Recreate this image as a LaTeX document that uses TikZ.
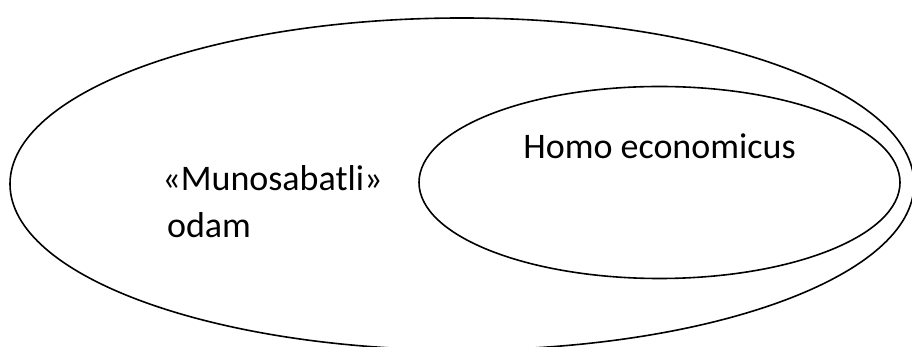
\documentclass[tikz,border=0pt]{standalone}
\usepackage{fontspec}
\setmainfont{Carlito}
\usetikzlibrary{shapes.geometric}
\tikzset{
  setbox/.style={ellipse, draw=black, line width=1.6pt, inner sep=0pt},
  lbl/.style={inner sep=0pt, anchor=base, font=\fontsize{36}{43}\selectfont, text=black}
}
\begin{document}
\begin{tikzpicture}[x=1pt,y=1pt]
\useasboundingbox (0,0) rectangle (912,347);
\node[setbox, minimum width=904pt, minimum height=332pt] (outer) at (462,163) {};
\node[setbox, minimum width=481pt, minimum height=192pt] (inner) at (659.5,164.5) {};
\node[lbl] (homo) at (659.5,188) {Homo economicus};
\node[lbl] (muno) at (272.5,156) {«Munosabatli»};
\node[lbl] (odam) at (209,109) {odam};
\end{tikzpicture}
\end{document}
